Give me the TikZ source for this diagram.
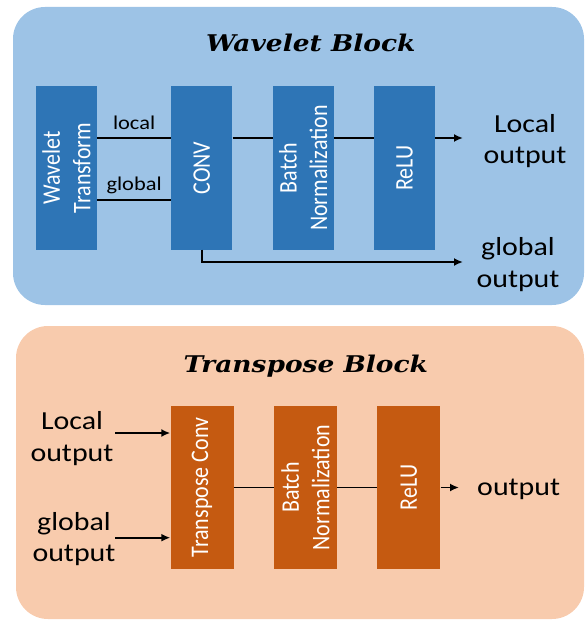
\documentclass[tikz,border=0pt]{standalone}
\usepackage{fontspec}
\setmainfont{Carlito}
\newfontfamily\titrefont{DejaVu Serif}
\usetikzlibrary{arrows.meta,positioning}
\definecolor{fondB}{HTML}{9DC3E6}
\definecolor{blocB}{HTML}{2E75B6}
\definecolor{fondO}{HTML}{F8CBAD}
\definecolor{blocO}{HTML}{C55A11}
\tikzset{
  bloc/.style={rectangle, fill=#1, minimum width=61pt, minimum height=163pt, inner sep=0pt},
  bloctxt/.style={xscale=1.15, rotate=90, text=white, align=center, inner sep=0pt,
                  font=\fontsize{22}{26.5}\selectfont},
  sortie/.style={xscale=1.15, align=center, inner sep=0pt, font=\fontsize{26}{31.5}\selectfont},
  petit/.style={xscale=1.15, inner sep=0pt, font=\fontsize{19.5}{23}\selectfont},
  titre/.style={xscale=1.15, inner sep=0pt, font=\titrefont\bfseries\itshape\fontsize{23}{28}\selectfont},
  arr/.style={-{Latex[length=9pt,width=8pt]}, line width=1.8pt},
  lien/.style={line width=1.8pt},
}

\begin{document}
\begin{tikzpicture}[x=1pt, y=-1pt, node distance=40pt]
  \useasboundingbox (0,0) rectangle (587,620);
  % fonds
  \fill[fondB, rounded corners=32pt] (13,7) rectangle (584,305);
  \fill[fondO, rounded corners=32pt] (16,326) rectangle (584,619);

  % Wavelet Block
  \node[titre, anchor=base] (t1) at (310.8,51.7) {Wavelet Block};
  \node[bloc=blocB] (wt) at (66.4,168) {};
  \node[bloc=blocB, right=74pt of wt] (conv) {};
  \node[bloc=blocB, right=of conv] (bn1) {};
  \node[bloc=blocB, right=of bn1] (relu1) {};
  \node[bloctxt] (wtt) at (wt) {Wavelet\\Transform};
  \node[bloctxt] (convt) at (conv) {CONV};
  \node[bloctxt] (bn1t) at (bn1) {Batch\\Normalization};
  \node[bloctxt] (relu1t) at (relu1) {ReLU};
  \coordinate (lo) at (463,138);
  \coordinate (go) at (463,262);
  \draw[lien] ([yshift=30pt]wt.east) -- node[petit, above=7pt] (loc) {local} ([yshift=30pt]conv.west);
  \draw[lien] ([yshift=-32pt]wt.east) -- node[petit, above=5pt] (glo) {global} ([yshift=-32pt]conv.west);
  \draw[lien] ([yshift=30pt]conv.east) -- ([yshift=30pt]bn1.west);
  \draw[lien] ([yshift=30pt]bn1.east) -- ([yshift=30pt]relu1.west);
  \draw[arr] ([yshift=30pt]relu1.east) -- (lo);
  \draw[arr] (conv.south) |- (go);
  \node[sortie] (lout) at (525,141) {Local\\output};
  \node[sortie] (gout) at (518,264.5) {global\\output};

  % Transpose Block
  \node[titre, anchor=base] (t2) at (305.8,372.7) {Transpose Block};
  \node[bloc=blocO, minimum width=63pt] (tc) at (202,487.5) {};
  \node[bloc=blocO, minimum width=63pt, right=of tc] (bn2) {};
  \node[bloc=blocO, minimum width=63pt, right=of bn2] (relu2) {};
  \node[bloctxt] (tct) at (tc) {Transpose Conv};
  \node[bloctxt] (bn2t) at (bn2) {Batch\\Normalization};
  \node[bloctxt] (relu2t) at (relu2) {ReLU};
  \node[sortie] (lin) at (72,438.5) {Local\\output};
  \node[sortie] (gin) at (74,539) {global\\output};
  \coordinate (li) at (115,433);
  \coordinate (gi) at (115,537.7);
  \coordinate (so) at (459,487.5);
  \draw[arr] (li) -- ([yshift=54.5pt]tc.west);
  \draw[arr] (gi) -- ([yshift=-50.2pt]tc.west);
  \draw[lien] (tc.east) -- (bn2.west);
  \draw[lien] (bn2.east) -- (relu2.west);
  \draw[arr] (relu2.east) -- (so);
  \node[sortie, anchor=base] (out) at (518.7,495) {output};
\end{tikzpicture}
\end{document}
